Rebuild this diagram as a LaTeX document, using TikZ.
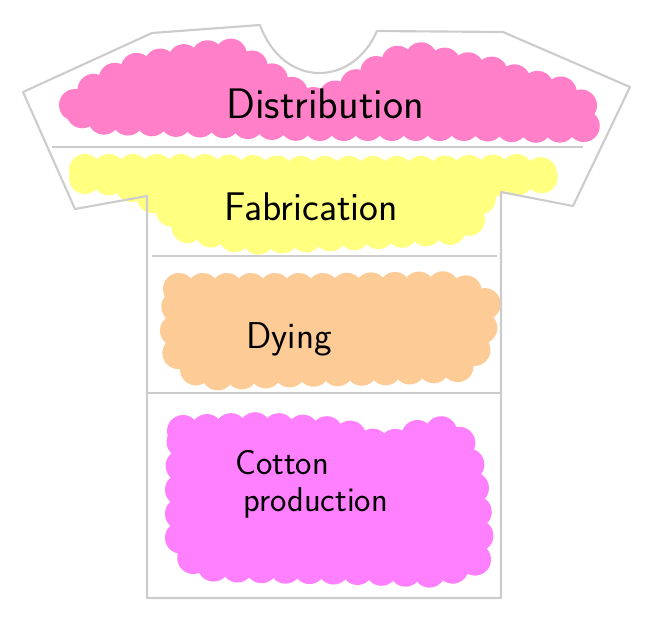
\documentclass[tikz,border=0pt]{standalone}
\usepackage{tikz}
\usetikzlibrary{decorations.shapes}

\definecolor{shirtgray}{RGB}{204,204,204}
\definecolor{distpink}{RGB}{255,128,200}
\definecolor{fabyellow}{RGB}{255,255,128}
\definecolor{dyeorange}{RGB}{253,204,150}
\definecolor{cottonpink}{RGB}{255,128,255}

\begin{document}
\begin{tikzpicture}[x=0.75pt,y=-0.75pt,
	blob/.style={fill=#1,postaction={fill=#1,decorate,
		decoration={shape backgrounds,shape=circle,shape size=24pt,shape sep={18pt,between centers}}}},
	outline/.style={draw=shirtgray,line width=1.6pt,line join=round},
	handtext/.style={font=\sffamily\fontsize{#1}{#1}\selectfont,anchor=base,inner sep=0pt}]
	
	\useasboundingbox (0,0) rectangle (647,633);
	
	% kiemelesek
	\path[blob=distpink] (75,105) -- (97,87) -- (136,69) -- (190,59) -- (228,53) -- (258,70)
		-- (295,95) -- (318,105) -- (352,88) -- (390,63) -- (420,58) -- (455,66) -- (490,72)
		-- (525,84) -- (560,92) -- (585,108) -- (585,126) -- (545,127) -- (470,125)
		-- (400,125) -- (300,125) -- (220,122) -- (140,120) -- (88,118) -- cycle;
	\path[blob=fabyellow] (85,170) -- (200,170) -- (300,172) -- (420,172) -- (520,170)
		-- (553,175) -- (538,178) -- (490,181) -- (476,205) -- (465,228) -- (380,233)
		-- (250,239) -- (182,226) -- (168,205) -- (120,180) -- (85,178) -- cycle;
	\path[blob=dyeorange] (179,289) -- (330,289) -- (458,287) -- (485,302) -- (479,345)
		-- (460,366) -- (400,369) -- (300,371) -- (202,375) -- (175,350) -- (177,310) -- cycle;
	\path[blob=cottonpink] (183,431) -- (260,428) -- (340,433) -- (385,449) -- (420,435)
		-- (450,431) -- (465,450) -- (472,480) -- (478,530) -- (475,560) -- (440,572)
		-- (360,569) -- (250,567) -- (198,565) -- (181,540) -- (181,480) -- cycle;
	
	% polo
	\draw[outline] (23,92) -- (152,33) -- (260,25) .. controls (283,88) and (352,88) .. (377,31)
		-- (503,32) -- (630,87) -- (573,206) -- (501,192) -- (501,598) -- (147,598)
		-- (147,196) -- (75,209) -- cycle;
	
	% valasztovonalak
	\draw[outline] (52,147) -- (583,147);
	\draw[outline] (152,256) -- (497,256);
	\draw[outline] (147,393) -- (501,393);
	
	% feliratok
	\node[handtext=32] (distr) at (325,118) {Distribution};
	\node[handtext=30] (fabr) at (311,220) {Fabrication};
	\node[handtext=28] (dying) at (289,348) {Dying};
	\node[handtext=26,anchor=base west] (cotton) at (235,474) {Cotton};
	\node[handtext=26,anchor=base west] (prod) at (243,511) {production};
	
\end{tikzpicture}
\end{document}
